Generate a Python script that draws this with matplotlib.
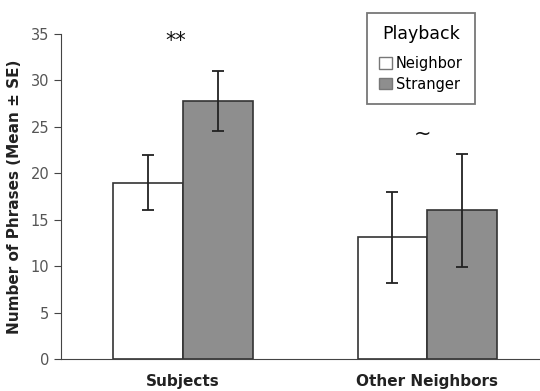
import matplotlib
matplotlib.use("Agg")
import matplotlib.pyplot as plt
from matplotlib.patches import Patch

groups = ["Subjects", "Other Neighbors"]
neighbor_mean = [19.0, 13.1]
neighbor_se = [3.0, 4.9]
stranger_mean = [27.8, 16.0]
stranger_se = [3.2, 6.1]
sig_labels = ["**", "~"]
sig_x = [0.47, 1.48]
sig_y = [34.3, 24.3]

fig = plt.figure(figsize=(5.4, 3.91), dpi=100)
ax = fig.add_axes([0.113, 0.082, 0.904, 0.831])

w = 0.285
xs = [0.5, 1.5]
edge = "#333333"
ax.bar([x - w / 2 for x in xs], neighbor_mean, w, color="white", edgecolor=edge, linewidth=1.2)
ax.bar([x + w / 2 for x in xs], stranger_mean, w, color="#8e8e8e", edgecolor=edge, linewidth=1.2)
ax.errorbar([x - w / 2 for x in xs], neighbor_mean, yerr=neighbor_se, fmt="none",
            ecolor="#222222", elinewidth=1.3, capsize=4, capthick=1.3)
ax.errorbar([x + w / 2 for x in xs], stranger_mean, yerr=stranger_se, fmt="none",
            ecolor="#222222", elinewidth=1.3, capsize=4, capthick=1.3)

for x, s, y in zip(sig_x, sig_labels, sig_y):
    ax.text(x, y, s, ha="center", va="center", fontsize=15, color="#111111")

ax.set_xlim(0, 2)
ax.set_ylim(0, 35)
ax.set_yticks(range(0, 36, 5))
ax.set_xticks(xs)
ax.set_xticklabels(groups, fontweight="bold", fontsize=11, color="#222222")
ax.tick_params(axis="y", labelsize=10.5, labelcolor="#555555", color="#444444", length=5, direction="out")
ax.tick_params(axis="x", length=0, pad=11)
ax.set_ylabel("Number of Phrases (Mean ± SE)", fontweight="bold", fontsize=11, color="#222222", labelpad=6)
for s in ["top", "right"]:
    ax.spines[s].set_visible(False)
ax.spines["left"].set_color("#444444")
ax.spines["bottom"].set_color("#444444")

handles = [Patch(facecolor="white", edgecolor="#777777", label="Neighbor"),
           Patch(facecolor="#8e8e8e", edgecolor="#777777", label="Stranger")]
leg = ax.legend(handles=handles, title="Playback", loc="upper left",
                bbox_to_anchor=(0.627, 1.065), fontsize=10.5, title_fontsize=12.5,
                frameon=True, fancybox=False, edgecolor="#555555",
                handlelength=0.85, handleheight=0.85, handletextpad=0.25,
                borderpad=0.85, labelspacing=0.4, borderaxespad=0)
leg.get_frame().set_linewidth(1.3)
# a bit more room between the title and the entries
leg._legend_box.sep = 9

fig.savefig("out.png", dpi=100)
